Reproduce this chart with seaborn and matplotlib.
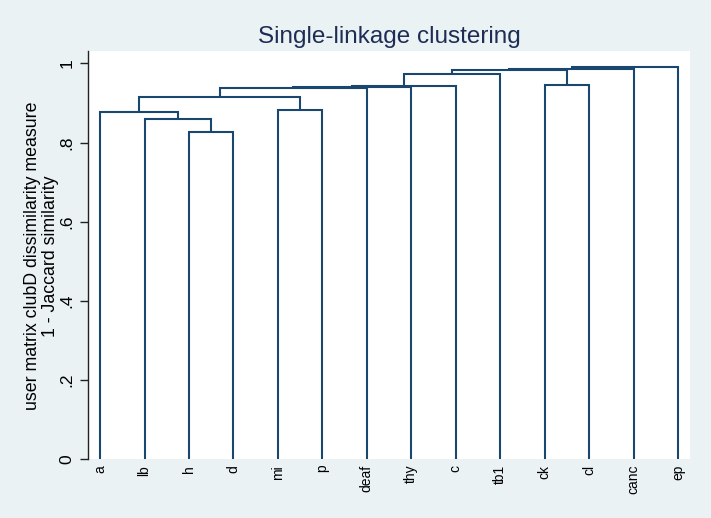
import matplotlib
matplotlib.use("Agg")
import matplotlib.pyplot as plt
import seaborn as sns

# ---- data ----
leaves = ["a", "lb", "h", "d", "mi", "p", "deaf", "thy", "c", "tb1", "ck", "cl", "canc", "ep"]
# merges: new cluster ids start at len(leaves)
merge_left = [2, 1, 0, 4, 16, 18, 19, 20, 10, 21, 23, 24, 25]
merge_right = [3, 14, 15, 5, 17, 6, 7, 8, 11, 9, 22, 12, 13]
merge_height = [0.826, 0.859, 0.877, 0.883, 0.916, 0.938, 0.941, 0.943, 0.946, 0.973, 0.983, 0.986, 0.992]
yticks = [0, 0.2, 0.4, 0.6, 0.8, 1.0]
ytick_labels = ["0", ".2", ".4", ".6", ".8", "1"]

title = "Single-linkage clustering"
ylabel = "user matrix clubD dissimilarity measure\n1 - Jaccard similarity"

# ---- style ----
sns.set_theme(style="white")
plt.rcParams["font.family"] = ["Liberation Sans", "DejaVu Sans"]
bg = "#EAF2F3"
line_color = "#1A476F"

fig = plt.figure(figsize=(7.11, 5.18), dpi=100, facecolor=bg)
ax = fig.add_axes([0.1233, 0.1133, 0.9705 - 0.1233, 0.9021 - 0.1133])
ax.set_facecolor("white")

# positions / heights of clusters
n = len(leaves)
xpos = {i: float(i) for i in range(n)}
hgt = {i: 0.0 for i in range(n)}
for k, (l, r, h) in enumerate(zip(merge_left, merge_right, merge_height)):
    cid = n + k
    xl, xr = xpos[l], xpos[r]
    ax.plot([xl, xl, xr, xr], [hgt[l], h, h, hgt[r]], color=line_color, lw=1.5,
            solid_joinstyle="miter", solid_capstyle="butt")
    xpos[cid] = (xl + xr) / 2
    hgt[cid] = h

ax.set_xlim(-0.28, n - 1 + 0.27)
ax.set_ylim(0, 1.032)

for s in ["top", "right", "bottom"]:
    ax.spines[s].set_visible(False)
ax.spines["left"].set_color("#222222")
ax.spines["left"].set_linewidth(1.0)

ax.set_xticks(range(n))
ax.set_xticklabels(leaves, rotation=90, fontsize=10, color="black")
ax.tick_params(axis="x", length=0, pad=4)

ax.set_yticks(yticks)
ax.set_yticklabels(ytick_labels, fontsize=12.5, color="black", rotation=90, va="center")
ax.tick_params(axis="y", length=6, width=1.0, color="#222222", pad=3.5, left=True, direction="out")

fig.text(0.0585, 0.506, ylabel, rotation=90, ha="center", va="center",
         multialignment="center", fontsize=12.8, linespacing=1.1, color="black")
fig.text(0.547, 0.917, title, ha="center", va="baseline", fontsize=17.5, color="#1E2D55")

fig.savefig("out.png", dpi=100, facecolor=bg)
